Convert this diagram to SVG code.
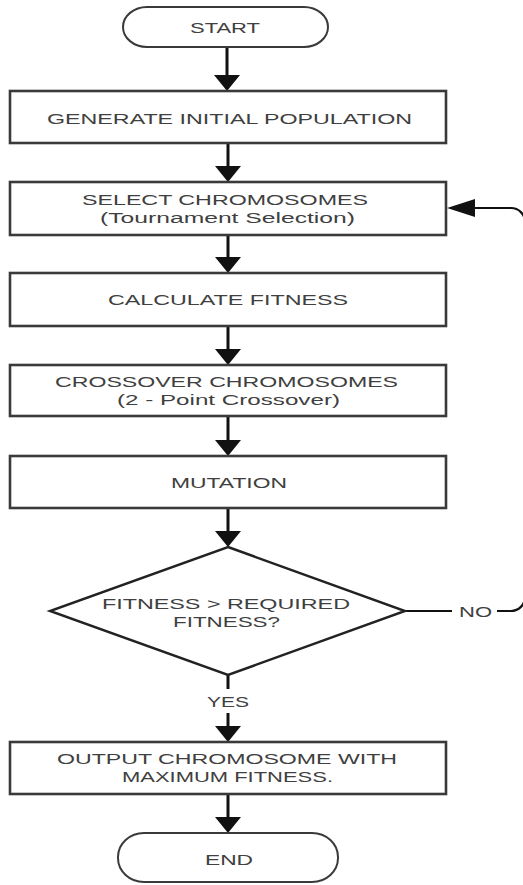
<svg xmlns="http://www.w3.org/2000/svg" width="523" height="885" viewBox="0 0 523 885">
  <style>
    .box { fill: #ffffff; stroke: #3a3a3a; stroke-width: 2.6; }
    .term { fill: #ffffff; stroke: #3a3a3a; stroke-width: 2; }
    .dec { fill: #ffffff; stroke: #222222; stroke-width: 2.4; }
    .lbl { font-family: "Liberation Sans", Arial, sans-serif; font-size: 15.5px; fill: #404040; text-anchor: middle; }
    .flow { fill: none; stroke: #111111; stroke-width: 3; }
    .thin { fill: none; stroke: #111111; stroke-width: 2.2; }
  </style>
  <defs>
    <marker id="arrowDown" markerUnits="userSpaceOnUse" viewBox="0 0 16 26" refX="8" refY="13" markerWidth="16" markerHeight="26" orient="auto">
      <path d="M0,0 L16,13 L0,26 Z" fill="#111111"/>
    </marker>
    <marker id="arrowSide" markerUnits="userSpaceOnUse" viewBox="0 0 28 18" refX="14" refY="9" markerWidth="28" markerHeight="18" orient="auto">
      <path d="M0,0 L28,9 L0,18 Z" fill="#111111"/>
    </marker>
  </defs>

  <rect width="523" height="885" fill="#ffffff"/>

  <!-- connectors -->
  <g id="connectors">
    <line class="flow" x1="227" y1="47" x2="227" y2="83" marker-end="url(#arrowDown)"/>
    <line class="flow" x1="228" y1="143" x2="228" y2="174" marker-end="url(#arrowDown)"/>
    <line class="flow" x1="228" y1="235" x2="228" y2="265" marker-end="url(#arrowDown)"/>
    <line class="flow" x1="228" y1="326" x2="228" y2="357" marker-end="url(#arrowDown)"/>
    <line class="flow" x1="228" y1="416" x2="228" y2="448" marker-end="url(#arrowDown)"/>
    <line class="flow" x1="228" y1="508" x2="228" y2="539" marker-end="url(#arrowDown)"/>
    <!-- YES branch -->
    <line class="flow" x1="228" y1="675" x2="228" y2="689"/>
    <line class="flow" x1="228" y1="713" x2="228" y2="734" marker-end="url(#arrowDown)"/>
    <line class="flow" x1="228" y1="794" x2="228" y2="825" marker-end="url(#arrowDown)"/>
    <!-- NO branch loops back to selection -->
    <line class="thin" x1="405" y1="611" x2="452" y2="611"/>
    <path class="thin" d="M497,611 H511 A14,14 0 0 0 525,597 V222 A14,14 0 0 0 511,208 H461" marker-end="url(#arrowSide)"/>
  </g>

  <g id="start">
    <rect class="term" x="123" y="7" width="205" height="40" rx="24" ry="20"/>
    <text class="lbl" x="225" y="33" textLength="70" lengthAdjust="spacingAndGlyphs">START</text>
  </g>

  <g id="generate">
    <rect class="box" x="10" y="91" width="436" height="52"/>
    <text class="lbl" x="229.5" y="124" textLength="365" lengthAdjust="spacingAndGlyphs">GENERATE INITIAL POPULATION</text>
  </g>

  <g id="select">
    <rect class="box" x="10" y="182" width="436" height="53"/>
    <text class="lbl" x="225" y="205" textLength="286" lengthAdjust="spacingAndGlyphs">SELECT CHROMOSOMES</text>
    <text class="lbl" x="227.5" y="222.5" textLength="255" lengthAdjust="spacingAndGlyphs">(Tournament Selection)</text>
  </g>

  <g id="fitness">
    <rect class="box" x="10" y="273" width="436" height="53"/>
    <text class="lbl" x="228" y="305" textLength="240" lengthAdjust="spacingAndGlyphs">CALCULATE FITNESS</text>
  </g>

  <g id="crossover">
    <rect class="box" x="10" y="365" width="436" height="51"/>
    <text class="lbl" x="226.5" y="387" textLength="343" lengthAdjust="spacingAndGlyphs">CROSSOVER CHROMOSOMES</text>
    <text class="lbl" x="228.5" y="404.5" textLength="223" lengthAdjust="spacingAndGlyphs">(2 - Point Crossover)</text>
  </g>

  <g id="mutation">
    <rect class="box" x="10" y="456" width="436" height="52"/>
    <text class="lbl" x="229" y="488" textLength="116" lengthAdjust="spacingAndGlyphs">MUTATION</text>
  </g>

  <g id="check">
    <polygon class="dec" points="228,547 405,611 228,675 50,611"/>
    <text class="lbl" x="226" y="609" textLength="248" lengthAdjust="spacingAndGlyphs">FITNESS &gt; REQUIRED</text>
    <text class="lbl" x="226.5" y="627" textLength="107" lengthAdjust="spacingAndGlyphs">FITNESS?</text>
  </g>

  <g id="branch-labels">
    <text class="lbl" x="475.5" y="616.5" textLength="33" lengthAdjust="spacingAndGlyphs">NO</text>
    <text class="lbl" x="228" y="707" textLength="42" lengthAdjust="spacingAndGlyphs">YES</text>
  </g>

  <g id="output">
    <rect class="box" x="10" y="742" width="436" height="52"/>
    <text class="lbl" x="227" y="764" textLength="340" lengthAdjust="spacingAndGlyphs">OUTPUT CHROMOSOME WITH</text>
    <text class="lbl" x="227.5" y="782" textLength="211" lengthAdjust="spacingAndGlyphs">MAXIMUM FITNESS.</text>
  </g>

  <g id="end">
    <rect class="term" x="118" y="833" width="220" height="49" rx="26" ry="24"/>
    <text class="lbl" x="229" y="864.5" textLength="48" lengthAdjust="spacingAndGlyphs">END</text>
  </g>
</svg>
